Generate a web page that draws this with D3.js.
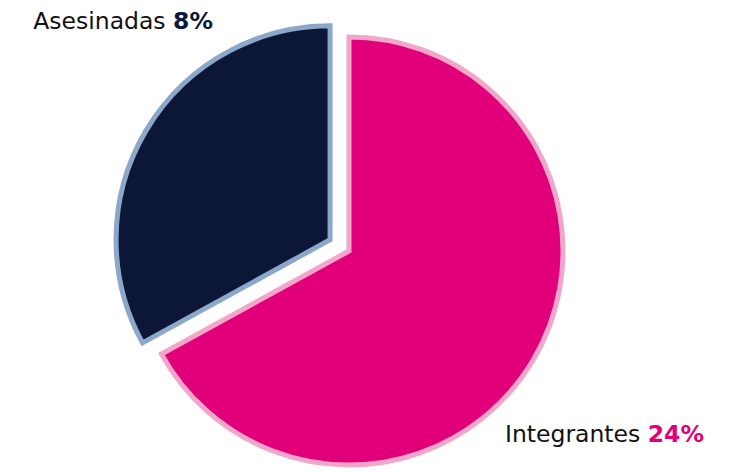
<!DOCTYPE html>
<html>
<head>
<meta charset="utf-8">
<script src="https://cdn.jsdelivr.net/npm/d3@7"></script>
<style>
  body { margin: 0; background: #fff; }
  text { font-family: "DejaVu Sans", "Liberation Sans", Arial, sans-serif; }
</style>
</head>
<body>
<div id="chart"></div>
<script>
// slice order as drawn, clockwise from 12 o'clock
var categories = ['Integrantes', 'Asesinadas'];
// share of the circle each slice takes
var sliceShares = [67, 33];
// the percentages printed in the labels
var labelValues = ['24%', '8%'];

var width = 732, height = 472;
var cx = 349, cy = 251, radius = 214;
var explode = 22;

var fills = ['#e2007a', '#0c1737'];
var strokes = ['#f2a6c9', '#8da7cb'];
var valueColors = ['#e2007a', '#0c1737'];

var svg = d3.select('#chart').append('svg')
    .attr('width', width)
    .attr('height', height);

var pie = d3.pie().sort(null).value(function(d) { return d; });
var arcs = pie(sliceShares);

var arc = d3.arc().innerRadius(0).outerRadius(radius);

var g = svg.append('g').attr('transform', 'translate(' + cx + ',' + cy + ')');

g.selectAll('path.slice')
    .data(arcs)
    .enter().append('path')
    .attr('class', 'slice')
    .attr('d', arc)
    .attr('fill', function(d, i) { return fills[i]; })
    .attr('stroke', function(d, i) { return strokes[i]; })
    .attr('stroke-width', 5)
    .attr('stroke-linejoin', 'miter')
    .attr('transform', function(d, i) {
        // the dark slice is pulled out along its bisector
        if (i !== 1) return null;
        var a = (d.startAngle + d.endAngle) / 2;
        return 'translate(' + (Math.sin(a) * explode) + ',' + (-Math.cos(a) * explode) + ')';
    });

// labels
var labelPos = [
    { x: 505, y: 442, anchor: 'start' },
    { x: 213, y: 29, anchor: 'end' }
];

categories.forEach(function(c, i) {
    var t = svg.append('text')
        .attr('x', labelPos[i].x)
        .attr('y', labelPos[i].y)
        .attr('text-anchor', labelPos[i].anchor)
        .style('font-size', '23.5px')
        .attr('fill', '#111');
    t.append('tspan').text(c + ' ');
    t.append('tspan')
        .attr('font-weight', 'bold')
        .attr('fill', valueColors[i])
        .text(labelValues[i]);
});
</script>
</body>
</html>
